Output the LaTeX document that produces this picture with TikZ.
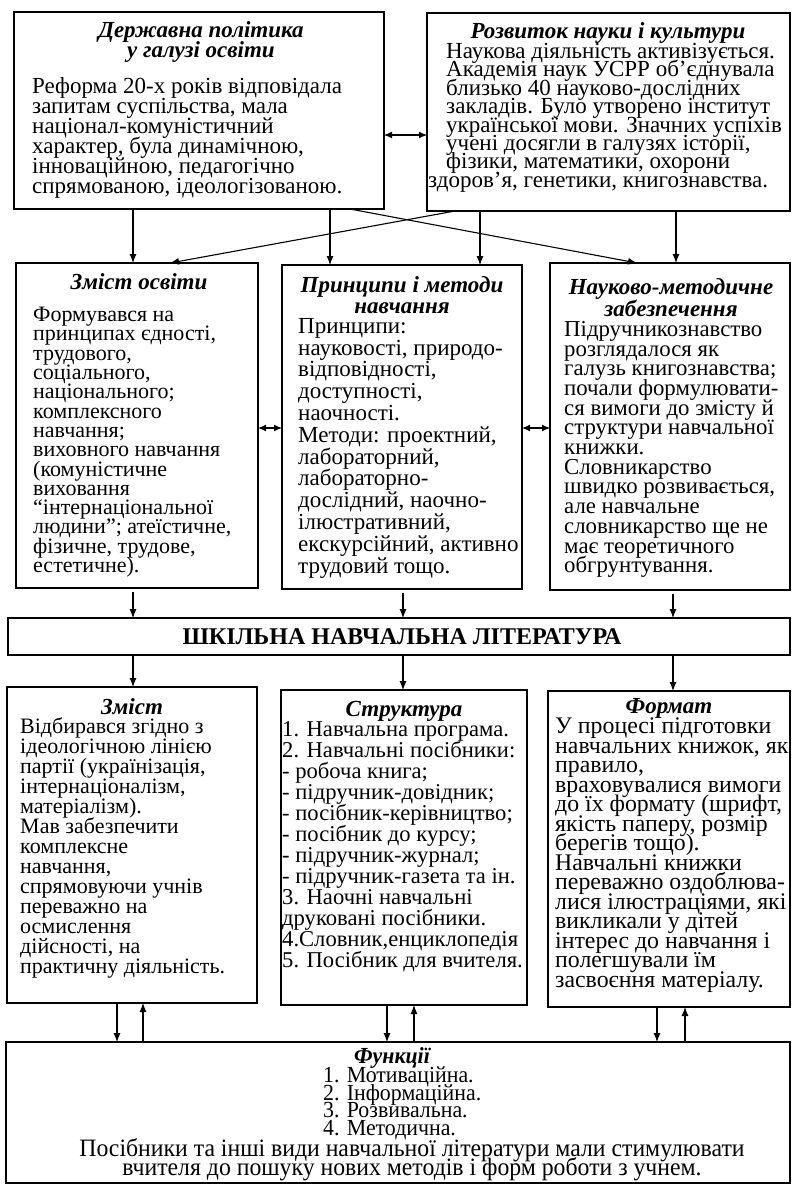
\documentclass[tikz,border=0pt]{standalone}
\usepackage{fontspec}
\setmainfont{Liberation Serif}
\newfontfamily\condfont[FakeStretch=0.95]{Liberation Serif}
\usetikzlibrary{arrows.meta}
\newcommand{\fsz}[2]{\fontsize{#1}{#2}\selectfont\lineskiplimit=-50pt\lineskip=0pt}
\begin{document}
\begin{tikzpicture}[x=1pt,y=-1pt,
  box/.style={draw, line width=1.3pt, inner sep=0pt, outer sep=0pt},
  body/.style={inner sep=0pt, align=left, anchor=north west},
  ttl/.style={inner sep=0pt, align=center, anchor=north, font=\bfseries\itshape\fsz{23}{20}},
  arr/.style={line width=1.1pt, -{Latex[length=9pt,width=7pt]}},
  darr/.style={line width=1.1pt, {Latex[length=8pt,width=7pt]}-{Latex[length=8pt,width=7pt]}},
]
\useasboundingbox (0,0) rectangle (793,1187);
\fill[white] (0,0) rectangle (793,1187);

% boxes
\node[box, minimum width=370pt, minimum height=197pt] (dp) at (199,110.5) {};
\node[box, minimum width=363pt, minimum height=198pt] (rn) at (608.5,112) {};
\node[box, minimum width=242pt, minimum height=325pt] (zo) at (137,425.5) {};
\node[box, minimum width=240pt, minimum height=324pt] (pm) at (402,427) {};
\node[box, minimum width=240pt, minimum height=327pt] (nm) at (670,426.5) {};
\node[box, minimum width=782pt, minimum height=37pt] (sh) at (399,636.5) {};
\node[box, minimum width=250pt, minimum height=316pt] (zm) at (132,845) {};
\node[box, minimum width=246pt, minimum height=315pt] (st) at (404,847.5) {};
\node[box, minimum width=242pt, minimum height=316pt] (fm) at (669,849) {};
\node[box, minimum width=784pt, minimum height=141pt] (fu) at (398,1112.5) {};

% texts: top row
\node[ttl] (dpT) at (201,21) {Державна політика\\у галузі освіти};
\node[body, font=\fsz{23}{20}] (dpB) at (32,77) {Реформа 20-х років відповідала\\запитам суспільства, мала\\націонал-комуністичний\\характер, була динамічною,\\інноваційною, педагогічно\\спрямованою, ідеологізованою.};

\node[ttl] (rnT) at (608,22) {Розвиток науки і культури};
\node[body, font=\fsz{23}{18.4}] (rnB) at (446,43) {Наукова діяльність активізується.\\Академія наук УСРР об'єднувала\\близько 40 науково-дослідних\\закладів. Було утворено інститут\\української мови. Значних успіхів\\учені досягли в галузях історії,\\фізики, математики, охорони\\\hspace*{-18pt}здоров'я, генетики, книгознавства.};

% middle row
\node[ttl] (zoT) at (139,273) {Зміст освіти};
\node[body, font=\fsz{22}{19.3}] (zoB) at (33,307) {Формувався на\\принципах єдності,\\трудового,\\соціального,\\національного;\\комплексного\\навчання;\\виховного навчання\\(комуністичне\\виховання\\“інтернаціональної\\людини”; атеїстичне,\\фізичне, трудове,\\естетичне).};

\node[ttl, font=\bfseries\itshape\fsz{23}{21}] (pmT) at (402,276) {Принципи і методи\\навчання};
\node[body, font=\fsz{23}{21.8}] (pmB) at (298,318) {Принципи:\\науковості, природо-\\відповідності,\\доступності,\\наочності.\\Методи: проектний,\\лабораторний,\\лабораторно-\\дослідний, наочно-\\ілюстративний,\\екскурсійний, активно\\трудовий тощо.};

\node[ttl, font=\bfseries\itshape\fsz{23}{22}] (nmT) at (671,278) {Науково-методичне\\забезпечення};
\node[body, font=\fsz{22.8}{19.7}] (nmB) at (564,321) {Підручникознавство\\розглядалося як\\галузь книгознавства;\\почали формулювати-\\ся вимоги до змісту й\\структури навчальної\\книжки.\\Словникарство\\швидко розвивається,\\але навчальне\\словникарство ще не\\має теоретичного\\обгрунтування.};

\node[inner sep=0pt, font=\bfseries\fsz{24}{24}] (shT) at (402,637) {ШКІЛЬНА НАВЧАЛЬНА ЛІТЕРАТУРА};

% bottom row
\node[ttl] (zmT) at (132,698) {Зміст};
\node[body, font=\fsz{22}{20}] (zmB) at (20,718) {Відбирався згідно з\\ідеологічною лінією\\партії (українізація,\\інтернаціоналізм,\\матеріалізм).\\Мав забезпечити\\комплексне\\навчання,\\спрямовуючи учнів\\переважно на\\осмислення\\дійсності, на\\практичну діяльність.};

\node[ttl] (stT) at (404,701) {Структура};
\node[body, font=\fsz{22.6}{21}] (stB) at (282,721) {1. Навчальна програма.\\2. Навчальні посібники:\\- робоча книга;\\- підручник-довідник;\\- посібник-керівництво;\\- посібник до курсу;\\- підручник-журнал;\\- підручник-газета та ін.\\3. Наочні навчальні\\друковані посібники.\\4.Словник,енциклопедія\\5. Посібник для вчителя.};

\node[ttl] (fmT) at (669,698) {Формат};
\node[body, font=\fsz{23.8}{19.5}] (fmB) at (555,718) {У процесі підготовки\\навчальних книжок, як\\правило,\\враховувалися вимоги\\до їх формату (шрифт,\\якість паперу, розмір\\берегів тощо).\\Навчальні книжки\\переважно оздоблюва-\\лися ілюстраціями, які\\викликали у дітей\\інтерес до навчання і\\полегшували їм\\засвоєння матеріалу.};

\node[ttl, font=\condfont\bfseries\itshape\fsz{23}{18}] (fuT) at (392,1047) {Функції};
\node[body, font=\condfont\fsz{23}{17.5}] (fuL) at (323,1067) {1. Мотиваційна.\\2. Інформаційна.\\3. Розвивальна.\\4. Методична.};
\node[inner sep=0pt, align=center, anchor=north, font=\condfont\fsz{25}{19}] (fuB) at (412,1138) {Посібники та інші види навчальної літератури мали стимулювати\\вчителя до пошуку нових методів і форм роботи з учнем.};

% connectors
\draw[arr] (dp.south -| 133,0) -- (zo.north -| 133,0);
\draw[arr] (dp.south -| 330,0) -- (pm.north -| 330,0);
\draw[arr] (rn.south -| 480,0) -- (pm.north -| 480,0);
\draw[arr] (rn.south -| 676,0) -- (nm.north -| 676,0);
\draw[arr] (dp.south -| 350,0) -- (nm.north -| 637,0);
\draw[arr] (rn.south -| 455,0) -- (zo.north -| 170,0);
\draw[darr] (dp.east |- 0,135) -- (rn.west |- 0,135);
\draw[darr] (zo.east |- 0,428) -- (pm.west |- 0,428);
\draw[darr] (pm.east |- 0,428) -- (nm.west |- 0,428);
\draw[arr, shorten <=4pt] (zo.south -| 133,0) -- (sh.north -| 133,0);
\draw[arr, shorten <=4pt] (pm.south -| 403,0) -- (sh.north -| 403,0);
\draw[arr, shorten <=4pt] (nm.south -| 673,0) -- (sh.north -| 673,0);
\draw[arr] (sh.south -| 133,0) -- (zm.north -| 133,0);
\draw[arr] (sh.south -| 403,0) -- (st.north -| 403,0);
\draw[arr] (sh.south -| 673,0) -- (fm.north -| 673,0);
\draw[arr] (zm.south -| 117,0) -- (fu.north -| 117,0);
\draw[arr] (fu.north -| 143,0) -- (zm.south -| 143,0);
\draw[arr] (st.south -| 387,0) -- (fu.north -| 387,0);
\draw[arr] (fu.north -| 414,0) -- (st.south -| 414,0);
\draw[arr] (fm.south -| 657,0) -- (fu.north -| 657,0);
\draw[arr] (fu.north -| 685,0) -- (fm.south -| 685,0);
\end{tikzpicture}
\end{document}
